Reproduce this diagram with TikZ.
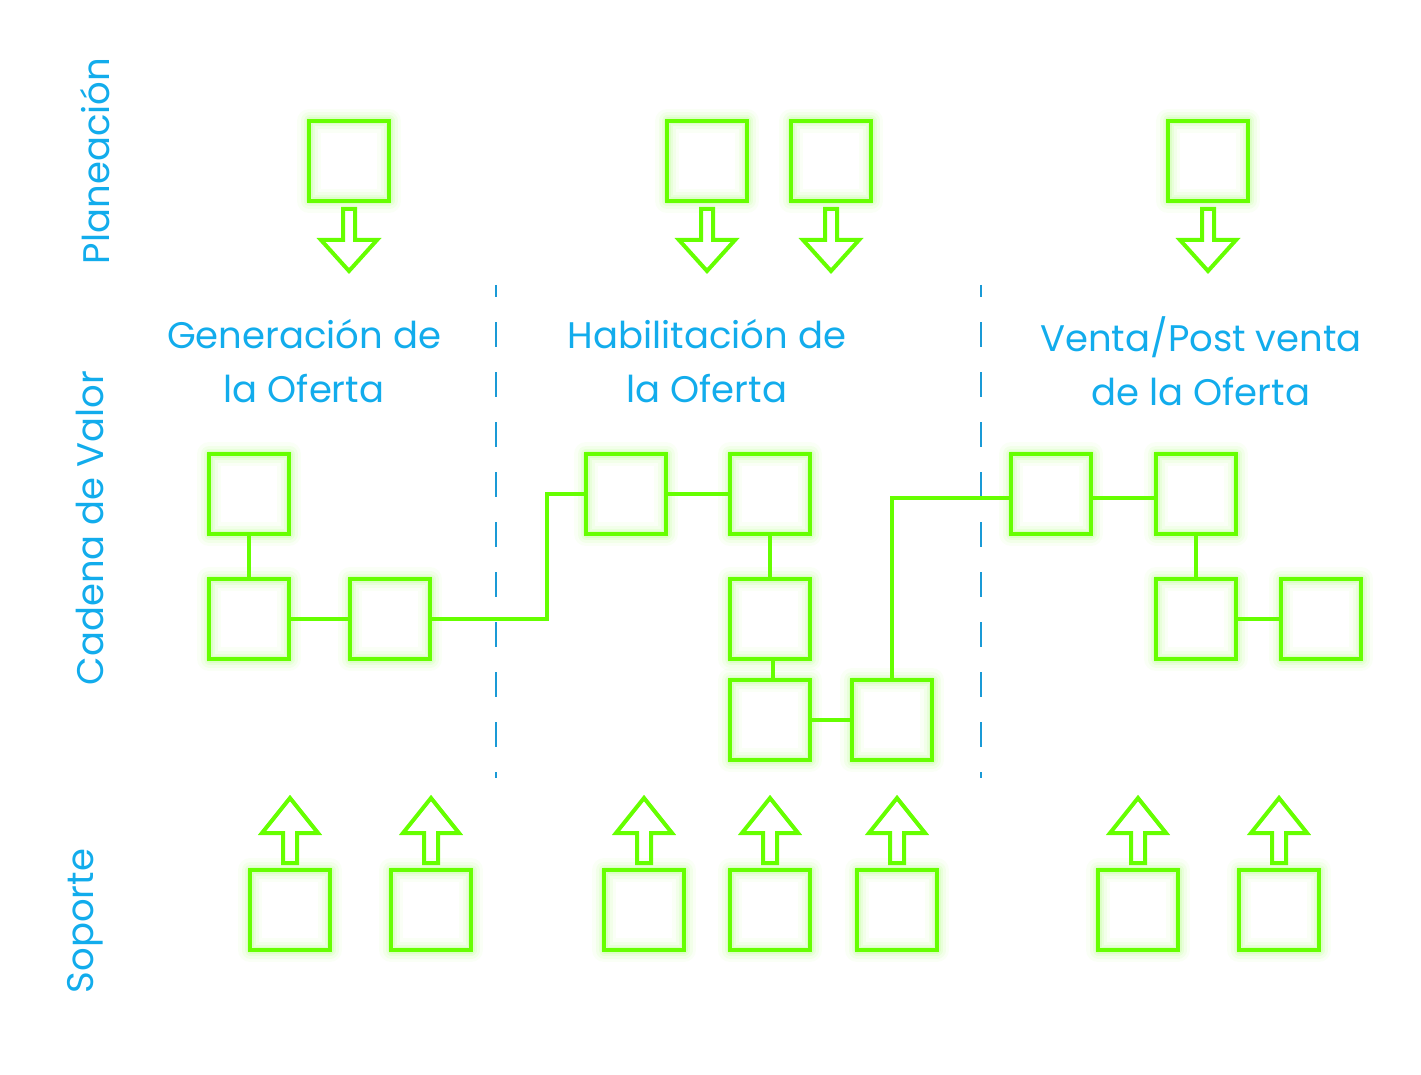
\documentclass[tikz,border=0pt]{standalone}
\usepackage{fontspec}
\setmainfont{Poppins}
\usetikzlibrary{calc}
\definecolor{lgreen}{RGB}{102,255,0}
\definecolor{tblue}{RGB}{18,172,236}
\definecolor{dblue}{RGB}{26,154,214}
\tikzset{
  glowbox/.style={draw=lgreen, line width=4pt, minimum width=80pt, minimum height=80pt, inner sep=0pt,
    preaction={draw=lgreen, line width=24pt, opacity=0.035, line join=round},
    preaction={draw=lgreen, line width=17pt, opacity=0.05, line join=round},
    preaction={draw=lgreen, line width=11pt, opacity=0.07, line join=round},
    preaction={draw=lgreen, line width=7pt, opacity=0.09, line join=round}},
  link/.style={draw=lgreen, line width=3.2pt},
  arrowline/.style={draw=lgreen, line width=4pt, line join=miter},
  sep/.style={draw=dblue, line width=2pt, dash pattern=on 25pt off 25pt, dash phase=13pt},
  lbl/.style={text=tblue, font=\fontsize{37}{54}\selectfont, align=center, inner sep=0pt},
  side/.style={text=tblue, font=\fontsize{37}{40}\selectfont, rotate=90, inner sep=0pt},
  pics/downarr/.style={code={
    \draw[arrowline] (-6,0) -- (-6,31) -- (-28,31) -- (0,62) -- (28,31) -- (6,31) -- (6,0) -- cycle;}},
  pics/uparr/.style={code={
    \draw[arrowline] (-7,0) -- (-7,-30) -- (-28,-30) -- (0,-65) -- (28,-30) -- (7,-30) -- (7,0) -- cycle;}}
}
\begin{document}
\begin{tikzpicture}[x=1pt,y=-1pt]
\useasboundingbox (0,0) rectangle (1421,1075);
% separators
\draw[sep] (496,285) -- (496,778);
\draw[sep] (981,285) -- (981,778);
% side labels
\node[side] (lp) at (95,161) {Planeación};
\node[side] (lc) at (90,528) {Cadena de Valor};
\node[side] (ls) at (85,921) {Soporte};
% column titles
\node[lbl] (tg) at (304,361) {Generación de\\la Oferta};
\node[lbl] (th) at (707,361) {Habilitación de\\la Oferta};
\node[lbl] (tv) at (1201,361) {Venta/Post venta\\de la Oferta};
% planeacion boxes
\foreach \n/\x in {P1/349,P2/707,P3/831,P4/1208}{
  \node[glowbox] (\n) at (\x,161) {};
  \pic at (\x,209) {downarr};
}
% soporte boxes
\foreach \n/\x in {S1/290,S2/431,S3/644,S4/770,S5/897,S6/1138,S7/1279}{
  \node[glowbox] (\n) at (\x,910) {};
  \pic at (\x,863) {uparr};
}
% cadena de valor
\node[glowbox] (G1) at (249,494) {};
\node[glowbox] (G2) at (249,619) {};
\node[glowbox] (G3) at (390,619) {};
\node[glowbox] (H1) at (626,494) {};
\node[glowbox] (H2) at (770,494) {};
\node[glowbox] (H3) at (770,619) {};
\node[glowbox] (H4) at (770,720) {};
\node[glowbox] (H5) at (892,720) {};
\node[glowbox] (V1) at (1051,494) {};
\node[glowbox] (V2) at (1196,494) {};
\node[glowbox] (V3) at (1196,619) {};
\node[glowbox] (V4) at (1321,619) {};
\coordinate (j1) at (547,619);
\draw[link] (G1.south) -- (G2.north);
\draw[link] (G2.east) -- (G3.west);
\draw[link] (G3.east) -- (j1) |- (H1.west);
\draw[link] (H1.east) -- (H2.west);
\draw[link] (H2.south) -- (H3.north);
\draw[link] ([xshift=3pt]H3.south) -- ([xshift=3pt]H4.north);
\draw[link] (H4.east) -- (H5.west);
\draw[link] (H5.north) |- ([yshift=-4pt]V1.west);
\draw[link] ([yshift=-4pt]V1.east) -- ([yshift=-4pt]V2.west);
\draw[link] (V2.south) -- (V3.north);
\draw[link] (V3.east) -- (V4.west);
\end{tikzpicture}
\end{document}
